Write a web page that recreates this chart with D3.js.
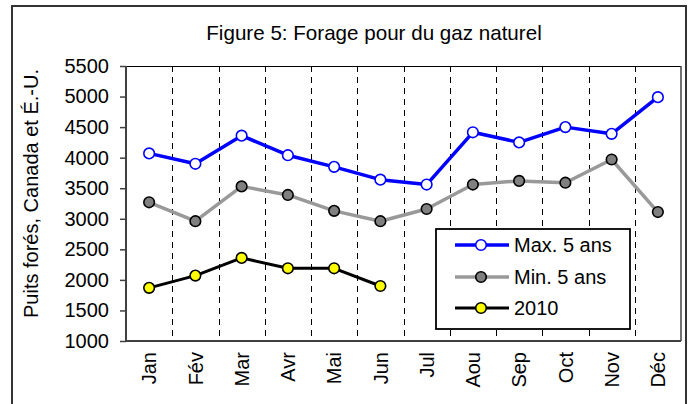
<!DOCTYPE html>
<html>
<head>
<meta charset="utf-8">
<script src="https://cdn.jsdelivr.net/npm/d3@7/dist/d3.min.js"></script>
<style>
  html, body { margin: 0; padding: 0; background: #fff; }
  svg { display: block; font-family: "Liberation Sans", Arial, sans-serif; }
</style>
</head>
<body>
<svg id="chart" width="692" height="404"></svg>
<script>
const months = ["Jan","Fév","Mar","Avr","Mai","Jun","Jul","Aou","Sep","Oct","Nov","Déc"];
const max5 = [4070, 3900, 4360, 4040, 3850, 3640, 3560, 4415, 4250, 4500, 4390, 4990];
const min5 = [3270, 2960, 3530, 3390, 3130, 2960, 3160, 3560, 3620, 3590, 3970, 3110];
const y2010 = [1870, 2070, 2360, 2190, 2190, 1900];
const yTicks = [1000, 1500, 2000, 2500, 3000, 3500, 4000, 4500, 5000, 5500];
const seriesNames = ["Max. 5 ans", "Min. 5 ans", "2010"];
const titleText = "Figure 5: Forage pour du gaz naturel";
const yTitle = "Puits forés, Canada et É.-U.";

const svg = d3.select("#chart");
const P = { left: 126, right: 681, top: 66, bottom: 341 };

// outer frame
svg.append("rect").attr("x", 12).attr("y", 6).attr("width", 674).attr("height", 410)
  .attr("fill", "#fff").attr("stroke", "#333").attr("stroke-width", 2);

const x = d3.scaleBand().domain(months).range([P.left, P.right]).padding(0);
const y = d3.scaleLinear().domain([1000, 5500]).range([P.bottom, P.top]);

// dashed vertical separators
const seps = months.slice(1);
svg.append("g").selectAll("line").data(seps).join("line")
  .attr("x1", d => Math.round(x(d)) + 0.5).attr("x2", d => Math.round(x(d)) + 0.5)
  .attr("y1", P.top).attr("y2", P.bottom)
  .attr("stroke", "#000").attr("stroke-width", 1).attr("stroke-dasharray", "6,5");

// plot border top/right
svg.append("line").attr("x1", P.left).attr("x2", P.right).attr("y1", P.top + 0.5).attr("y2", P.top + 0.5)
  .attr("stroke", "#000").attr("stroke-width", 1);
svg.append("line").attr("x1", P.right).attr("x2", P.right).attr("y1", P.top).attr("y2", P.bottom)
  .attr("stroke", "#444").attr("stroke-width", 1.5);

// y axis
const yAxis = svg.append("g").attr("transform", `translate(${P.left},0)`)
  .call(d3.axisLeft(y).tickValues(yTicks).tickSize(6).tickPadding(11).tickFormat(d3.format("d")));
yAxis.select(".domain").attr("stroke", "#404040").attr("stroke-width", 2).attr("d", `M0,${P.top}V${P.bottom}`);
yAxis.selectAll(".tick line").attr("stroke", "#404040").attr("stroke-width", 1.5);
yAxis.selectAll(".tick text").attr("font-size", 20).attr("fill", "#000")
  .style("font-family", "'Liberation Sans', Arial, sans-serif");

// x axis
const xAxis = svg.append("g").attr("transform", `translate(0,${P.bottom})`)
  .call(d3.axisBottom(x).tickSize(0).tickPadding(0));
xAxis.select(".domain").attr("stroke", "#404040").attr("stroke-width", 2).attr("d", `M${P.left},0H${P.right}`);
xAxis.selectAll(".tick text").attr("font-size", 20).attr("fill", "#000")
  .style("font-family", "'Liberation Sans', Arial, sans-serif")
  .attr("transform", "rotate(-90)")
  .attr("text-anchor", "end")
  .attr("x", -11).attr("y", 0).attr("dy", "0.36em");

// series
const series = [
  { name: seriesNames[0], values: max5, line: "#0000FF", lw: 3.5, fill: "#FFFFFF", mstroke: "#0000FF" },
  { name: seriesNames[1], values: min5, line: "#999999", lw: 3.5, fill: "#808080", mstroke: "#000000" },
  { name: seriesNames[2], values: y2010, line: "#000000", lw: 3, fill: "#FFFF00", mstroke: "#000000" }
];
const cx = i => x(months[i]) + x.bandwidth() / 2;
const lineGen = d3.line().x((d, i) => cx(i)).y(d => y(d));

series.forEach(s => {
  svg.append("path").datum(s.values).attr("d", lineGen)
    .attr("fill", "none").attr("stroke", s.line).attr("stroke-width", s.lw).attr("stroke-linejoin", "round");
  svg.append("g").selectAll("circle").data(s.values).join("circle")
    .attr("cx", (d, i) => cx(i)).attr("cy", d => y(d)).attr("r", 5.3)
    .attr("fill", s.fill).attr("stroke", s.mstroke).attr("stroke-width", 1.6);
});

// legend
const L = { x: 436, y: 229, w: 194, h: 100 };
svg.append("rect").attr("x", L.x).attr("y", L.y).attr("width", L.w).attr("height", L.h)
  .attr("fill", "#fff").attr("stroke", "#000").attr("stroke-width", 1.8);
const rowsY = [245, 277, 308];
series.forEach((s, i) => {
  const g = svg.append("g");
  g.append("line").attr("x1", 455).attr("x2", 509).attr("y1", rowsY[i]).attr("y2", rowsY[i])
    .attr("stroke", s.line).attr("stroke-width", s.lw);
  g.append("circle").attr("cx", 481).attr("cy", rowsY[i]).attr("r", 5.3)
    .attr("fill", s.fill).attr("stroke", s.mstroke).attr("stroke-width", 1.6);
  g.append("text").attr("x", 514).attr("y", rowsY[i]).attr("dy", "0.36em")
    .attr("font-size", 20).attr("fill", "#000").text(s.name);
});

// title
svg.append("text").attr("x", 374).attr("y", 40).attr("text-anchor", "middle")
  .attr("font-size", 20.6).attr("fill", "#000").text(titleText);

// y title
svg.append("text").attr("transform", `translate(38,${(P.top + P.bottom) / 2 - 10}) rotate(-90)`)
  .attr("text-anchor", "middle").attr("font-size", 20).attr("fill", "#000").text(yTitle);
</script>
</body>
</html>
